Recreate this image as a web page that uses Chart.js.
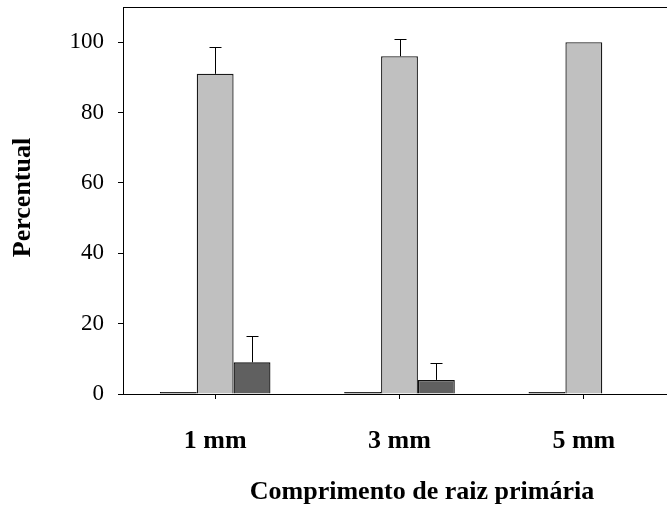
<!DOCTYPE html>
<html>
<head>
<meta charset="utf-8">
<script src="https://cdn.jsdelivr.net/npm/chart.js@4/dist/chart.umd.min.js"></script>
<style>
  html, body { margin: 0; padding: 0; background: #fff; overflow: hidden; }
  #wrap { width: 690px; height: 508px; }
</style>
</head>
<body>
<div id="wrap"><canvas id="c" width="690" height="508"></canvas></div>
<script>
const categories = ['1 mm', '3 mm', '5 mm'];
const seriesBlack = [0.6, 0.6, 0.6];
const seriesLight = [91, 96, 100];
const seriesDark = [9, 4, 0];
const errLight = [7.6, 4.8, null];
const errDark = [7.4, 4.8, null];
const yTicks = [0, 20, 40, 60, 80, 100];
const xTitle = 'Comprimento de raiz primária';
const yTitle = 'Percentual';

const SERIF = '"Liberation Serif", "Times New Roman", serif';

const errorBars = {
  id: 'errorBars',
  afterDatasetsDraw(chart) {
    const ctx = chart.ctx;
    const y = chart.scales.y;
    const sets = [[1, seriesLight, errLight], [2, seriesDark, errDark]];
    ctx.save();
    ctx.strokeStyle = '#000';
    ctx.lineWidth = 1;
    sets.forEach(([di, vals, errs]) => {
      const meta = chart.getDatasetMeta(di);
      meta.data.forEach((bar, i) => {
        const e = errs[i];
        if (e == null) return;
        const top = Math.round(y.getPixelForValue(vals[i] + e)) + 0.5;
        const base = y.getPixelForValue(vals[i]);
        const x = Math.round(bar.x) + 0.5;
        ctx.beginPath();
        ctx.moveTo(x, base);
        ctx.lineTo(x, top);
        ctx.moveTo(x - 6, top);
        ctx.lineTo(x + 6, top);
        ctx.stroke();
      });
    });
    ctx.restore();
  }
};

const axisTitles = {
  id: 'axisTitles',
  afterDraw(chart) {
    const ctx = chart.ctx;
    const a = chart.chartArea;
    ctx.save();
    ctx.fillStyle = '#000';
    ctx.font = 'bold 26px ' + SERIF;
    ctx.textAlign = 'center';
    ctx.textBaseline = 'middle';
    ctx.fillText(xTitle, 422, 492);
    ctx.translate(23, (a.top + a.bottom) / 2 - 3);
    ctx.rotate(-Math.PI / 2);
    ctx.fillText(yTitle, 0, 0);
    ctx.restore();
  }
};

new Chart(document.getElementById('c'), {
  type: 'bar',
  data: {
    labels: categories,
    datasets: [
      { data: seriesBlack, backgroundColor: '#000000', borderColor: '#000000', borderWidth: 1 },
      { data: seriesLight, backgroundColor: '#c0c0c0', borderColor: '#1a1a1a', borderWidth: 1.3 },
      { data: seriesDark, backgroundColor: '#606060', borderColor: '#111111', borderWidth: 1.3 }
    ]
  },
  options: {
    responsive: false,
    animation: false,
    devicePixelRatio: 1,
    layout: { padding: { top: 7, right: 14, left: 0, bottom: 0 } },
    plugins: { legend: { display: false }, tooltip: { enabled: false } },
    datasets: { bar: { categoryPercentage: 0.6, barPercentage: 1.0 } },
    scales: {
      x: {
        type: 'category',
        position: 'bottom',
        grid: { display: true, drawOnChartArea: false, drawTicks: true, tickLength: 5, offset: false, color: '#000' },
        border: { display: true, color: '#000', width: 1 },
        ticks: { color: '#000', font: { family: SERIF, size: 26, weight: 'bold' }, padding: 27, maxRotation: 0 },
        afterFit(s) { s.height = 114; s.paddingLeft = 0; s.paddingRight = 0; }
      },
      xTop: {
        type: 'category',
        position: 'top',
        labels: categories,
        grid: { display: true, drawOnChartArea: false, drawTicks: false },
        border: { display: true, color: '#000', width: 1 },
        ticks: { display: false },
        afterFit(s) { s.height = 0; s.paddingLeft = 0; s.paddingRight = 0; }
      },
      y: {
        min: 0,
        max: 110,
        grid: { display: true, drawOnChartArea: false, drawTicks: true, tickLength: 5, color: '#000' },
        border: { display: true, color: '#000', width: 1 },
        ticks: { stepSize: 20, color: '#000', font: { family: SERIF, size: 23 }, padding: 14 },
        afterBuildTicks(s) { s.ticks = yTicks.map(v => ({ value: v })); },
        afterFit(s) { s.width = 123; s.paddingTop = 0; s.paddingBottom = 0; }
      }
    }
  },
  plugins: [errorBars, axisTitles]
});
</script>
</body>
</html>
